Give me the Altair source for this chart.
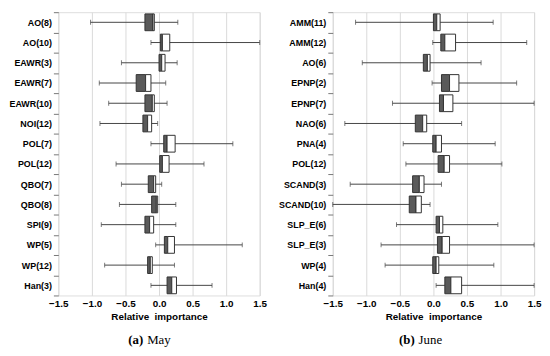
import altair as alt
import pandas as pd

# ---- Panel (a) May ----
labels_a = ["AO(8)", "AO(10)", "EAWR(3)", "EAWR(7)", "EAWR(10)", "NOI(12)", "POL(7)",
            "POL(12)", "QBO(7)", "QBO(8)", "SPI(9)", "WP(5)", "WP(12)", "Han(3)"]
lo_a  = [-1.02, -0.12, -0.56, -0.89, -0.75, -0.88, -0.12, -0.64, -0.56, -0.59, -0.86, -0.05, -0.81, -0.12]
q1_a  = [-0.21,  0.02,  0.00, -0.34, -0.21, -0.24,  0.07,  0.01, -0.16, -0.11, -0.21,  0.08, -0.17,  0.12]
med_a = [-0.09,  0.05,  0.04, -0.20, -0.10, -0.17,  0.12,  0.05, -0.08, -0.04, -0.14,  0.13, -0.13,  0.19]
q3_a  = [-0.07,  0.16,  0.09, -0.12, -0.07, -0.11,  0.24,  0.15, -0.05, -0.02, -0.08,  0.23, -0.10,  0.26]
hi_a  = [ 0.28,  1.50,  0.27,  0.10,  0.12, -0.02,  1.10,  0.67,  0.04,  0.25,  0.25,  1.24,  0.23,  0.79]

# ---- Panel (b) June ----
labels_b = ["AMM(11)", "AMM(12)", "AO(6)", "EPNP(2)", "EPNP(7)", "NAO(6)", "PNA(4)",
            "POL(12)", "SCAND(3)", "SCAND(10)", "SLP_E(6)", "SLP_E(3)", "WP(4)", "Han(4)"]
lo_b  = [-1.16, -0.01, -1.06, -0.02, -0.61, -1.32, -0.45, -0.41, -1.24, -1.50, -0.55, -0.78, -0.72, 0.04]
q1_b  = [ 0.00,  0.11, -0.15,  0.12,  0.09, -0.27, -0.01,  0.07, -0.31, -0.36,  0.04,  0.06, -0.01, 0.17]
med_b = [ 0.05,  0.17, -0.09,  0.24,  0.15, -0.16,  0.04,  0.16, -0.21, -0.26,  0.09,  0.13,  0.04, 0.26]
q3_b  = [ 0.10,  0.33, -0.05,  0.38,  0.29, -0.10,  0.12,  0.24, -0.14, -0.18,  0.14,  0.24,  0.08, 0.42]
hi_b  = [ 0.89,  1.39,  0.71,  1.24,  1.50,  0.42,  0.92,  1.02,  0.12, -0.05,  0.96,  1.50,  0.90, 1.50]

x_ticks = [-1.5, -1.0, -0.5, 0.0, 0.5, 1.0, 1.5]

W, H = 204, 287
SANS = "Liberation Sans"
SERIF = "Liberation Serif"


def panel(labels, lo, q1, med, q3, hi, letter, word, cap_x):
    df = pd.DataFrame({"label": labels, "lo": lo, "q1": q1, "med": med, "q3": q3, "hi": hi})
    base = alt.Chart(df)
    xscale = alt.Scale(domain=[-1.5, 1.5], nice=False, zero=False)
    yenc = alt.Y("label:N", sort=labels,
                 scale=alt.Scale(type="band", paddingInner=0, paddingOuter=0),
                 axis=alt.Axis(title=None, labelFont=SANS, labelFontWeight="bold",
                               labelFontSize=9, labelColor="black", labelPadding=2,
                               tickBand="extent", tickSize=5, tickColor="#777",
                               domain=False, grid=False))
    xaxis = alt.Axis(values=x_ticks, tickCount=7, format=".1f", grid=True,
                     gridColor="#d9d9d9", ticks=False, domain=False,
                     labelFont=SANS, labelFontWeight="bold",
                     labelFontSize=10, labelColor="black", labelFlush=False,
                     labelOverlap=False, labelPadding=3,
                     title="Relative\u00a0 importance",
                     titleFont=SANS, titleFontWeight="bold", titleFontSize=10,
                     titleColor="black", titlePadding=3)

    def X(f):
        return alt.X(f, scale=xscale, axis=xaxis)

    whisk = base.mark_rule(color="#444", strokeWidth=1).encode(
        x=X("lo:Q"), x2="hi:Q", y=yenc)
    cap_lo = base.mark_tick(color="#444", size=5, thickness=1).encode(x=X("lo:Q"), y=yenc)
    cap_hi = base.mark_tick(color="#444", size=5, thickness=1).encode(x=X("hi:Q"), y=yenc)
    box_dark = base.mark_bar(size=17, fill="#5a5a5a", stroke="#333", strokeWidth=1).encode(
        x=X("q1:Q"), x2="med:Q", y=yenc)
    box_light = base.mark_bar(size=17, fill="white", stroke="#333", strokeWidth=1).encode(
        x=X("med:Q"), x2="q3:Q", y=yenc)
    cap1 = alt.Chart(pd.DataFrame({"t": [letter]})).mark_text(
        font=SERIF, fontSize=13, fontWeight="bold", align="right", baseline="middle",
        color="black").encode(x=alt.value(cap_x), y=alt.value(332), text="t:N")
    cap2 = alt.Chart(pd.DataFrame({"t": [word]})).mark_text(
        font=SERIF, fontSize=13, align="left", baseline="middle",
        color="black").encode(x=alt.value(cap_x + 4), y=alt.value(332), text="t:N")
    return alt.layer(whisk, cap_lo, cap_hi, box_dark, box_light, cap1, cap2).properties(
        width=W, height=H)


pa = panel(labels_a, lo_a, q1_a, med_a, q3_a, hi_a, "(a)", "May", 86)
pb = panel(labels_b, lo_b, q1_b, med_b, q3_b, hi_b, "(b)", "June", 83)

chart = alt.hconcat(pa, pb, spacing=74, bounds="flush").properties(
    padding={"left": 0, "top": -3, "right": 0, "bottom": 0}
).configure_view(stroke="#666", strokeWidth=1).configure(background="white")

chart.save("out.html", embed_options={"renderer": "svg", "actions": False})
